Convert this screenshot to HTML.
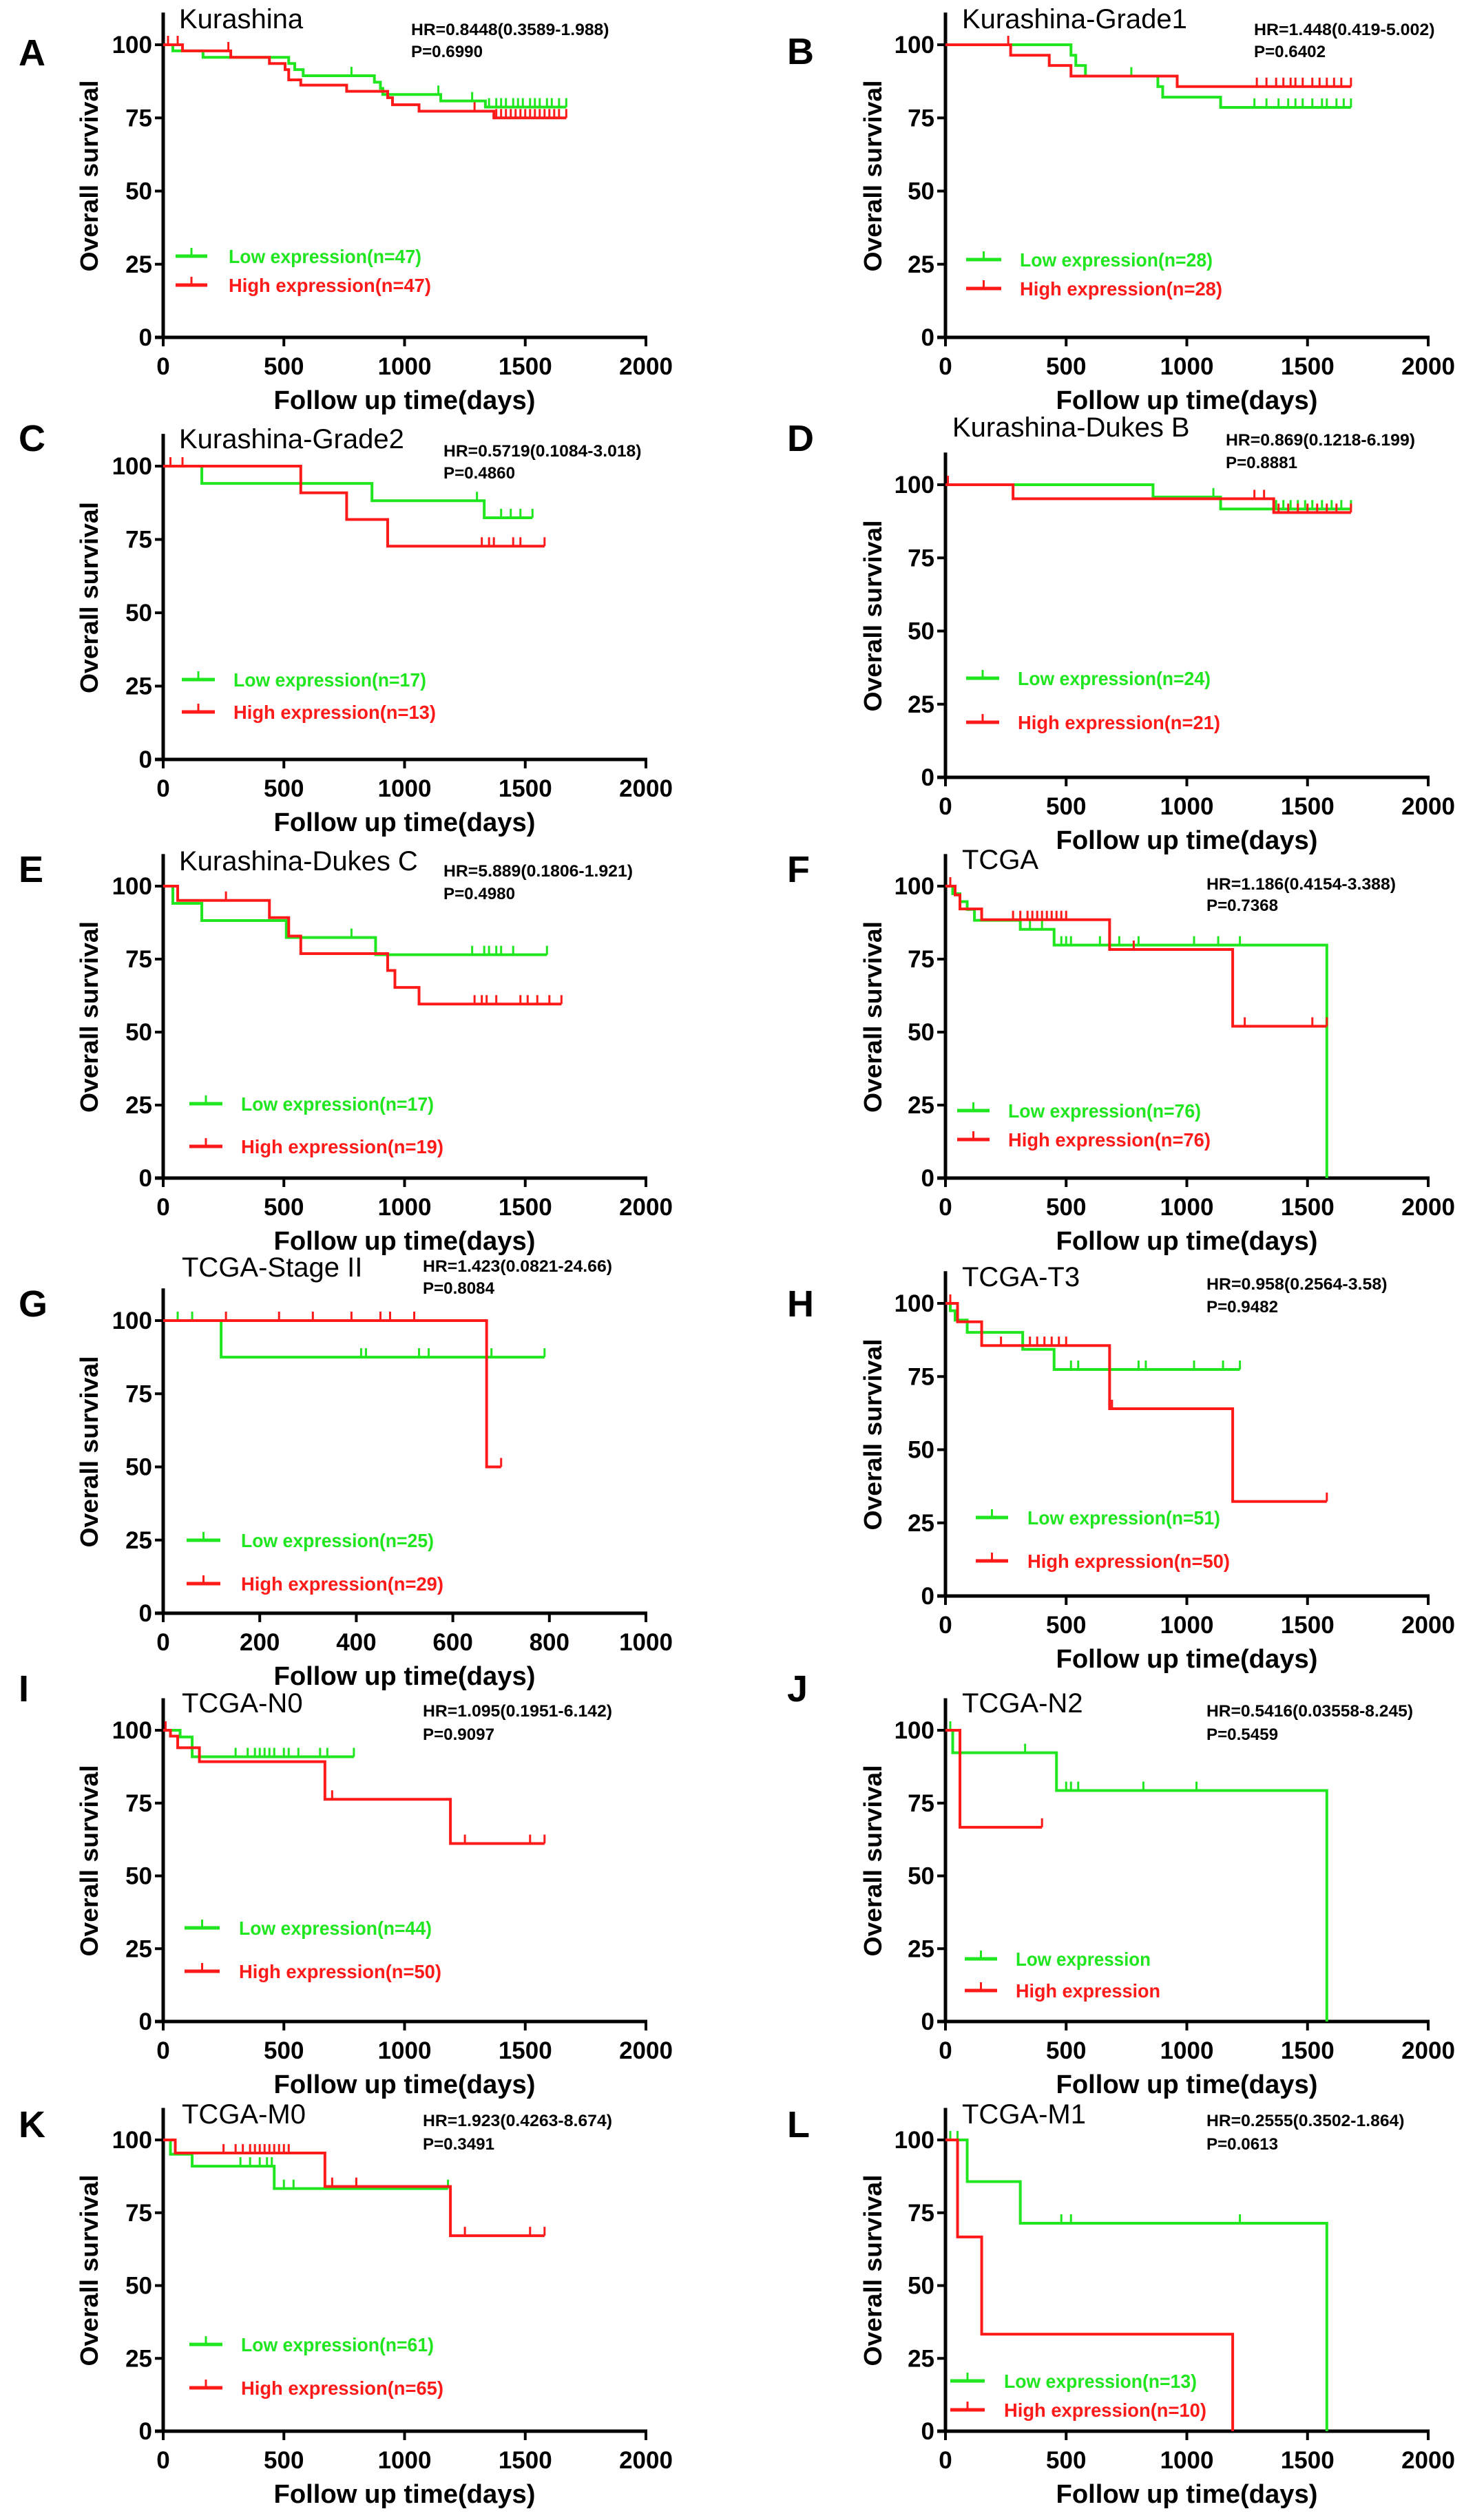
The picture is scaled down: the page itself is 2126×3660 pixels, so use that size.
<!DOCTYPE html>
<html><head><meta charset="utf-8"><style>
html,body{margin:0;padding:0;background:#fff}
svg{display:block}
text{font-family:"Liberation Sans",Arial,sans-serif}
</style></head><body>
<svg id="fig" xmlns="http://www.w3.org/2000/svg" width="2126" height="3660" viewBox="0 0 2126 3660">
<rect x="0" y="0" width="2126" height="3660" fill="#fff"/>
</svg>
<script>
// ---- data (days, survival %) ----
const A_lowT=[40,165,520,545,580,875,900,910,1150,1335];
const A_lowS=[97.9,95.7,93.6,91.5,89.4,87.2,85.1,83.0,80.8,78.7];
const A_lowC=[780,1140,1280,1350,1380,1400,1420,1450,1470,1490,1520,1540,1560,1590,1610,1640,1670];
const A_highT=[80,280,440,505,520,570,760,930,950,1060,1370];
const A_highS=[97.9,95.7,93.6,91.5,88.0,86.2,84.1,81.9,79.5,77.3,75.0];
const A_highC=[20,60,270,1290,1380,1400,1420,1440,1460,1480,1500,1520,1540,1560,1580,1600,1620,1640,1670];
const A_ends=[1670,1670];

const B_lowT=[520,540,580,880,900,1140];
const B_lowS=[96.4,92.9,89.3,85.7,82.1,78.6];
const B_lowC=[770,1280,1330,1380,1420,1450,1480,1520,1560,1580,1620,1650,1680];
const B_highT=[270,430,520,960];
const B_highS=[96.4,92.9,89.3,85.7];
const B_highC=[260,1290,1330,1370,1400,1430,1450,1480,1520,1550,1580,1610,1640,1680];
const B_ends=[1680,1680];

const C_lowT=[160,865,1330];
const C_lowS=[94.1,88.2,82.4];
const C_lowC=[1300,1400,1440,1480,1530];
const C_highT=[570,760,930];
const C_highS=[90.9,81.8,72.7];
const C_highC=[30,80,1320,1350,1370,1450,1480,1580];
const C_ends=[1530,1580];

const D_lowT=[860,1140];
const D_lowS=[95.8,91.7];
const D_lowC=[1110,1370,1400,1430,1460,1490,1520,1560,1600,1640,1680];
const D_highT=[280,1360];
const D_highS=[95.2,90.5];
const D_highC=[10,1280,1320,1380,1420,1460,1500,1540,1580,1620,1680];
const D_ends=[1680,1680];

const E_lowT=[40,160,510,880];
const E_lowS=[94.1,88.2,82.4,76.5];
const E_lowC=[780,1280,1330,1350,1380,1400,1450,1590];
const E_highT=[60,440,520,570,930,960,1060];
const E_highS=[95.1,89.2,82.9,76.9,71.1,65.3,59.6];
const E_highC=[260,1290,1320,1340,1380,1480,1510,1550,1600,1650];
const E_ends=[1590,1650];

const F_lowT=[30,60,90,120,310,450,1580];
const F_lowS=[97.4,94.7,92.0,88.3,85.2,79.8,0];
const F_lowC=[350,400,480,500,520,640,720,800,1030,1130,1220];
const F_highT=[40,60,150,680,1190];
const F_highS=[97.0,92.2,88.5,78.3,52.0];
const F_highC=[20,280,310,340,360,380,400,420,440,460,480,500,780,1240,1520,1580];
const F_ends=[1580,1580];

const G_lowT=[120];
const G_lowS=[87.5];
const G_lowC=[30,60,410,420,530,550,680,790];
const G_highT=[670];
const G_highS=[50];
const G_highC=[130,240,310,390,450,470,520,700];
const G_ends=[790,700];

const H_lowT=[20,40,90,320,450];
const H_lowS=[97.5,94.3,90.1,84.3,77.4];
const H_lowC=[20,520,550,800,830,1030,1150,1220];
const H_highT=[50,150,680,1190];
const H_highS=[93.7,85.6,64.0,32.3];
const H_highC=[20,230,350,380,410,440,470,500,690,1580];
const H_ends=[1220,1580];

const I_lowT=[70,120];
const I_lowS=[97.7,90.9];
const I_lowC=[300,350,380,400,420,440,460,500,520,560,650,680,790];
const I_highT=[30,60,150,670,1190];
const I_highS=[98,94,89.2,76.3,61.1];
const I_highC=[10,700,1250,1520,1580];
const I_ends=[790,1580];

const J_lowT=[30,460,1580];
const J_lowS=[92.3,79.3,0];
const J_lowC=[20,330,500,520,550,820,1040];
const J_highT=[60];
const J_highS=[66.7];
const J_highC=[400];
const J_ends=[1580,400];

const K_lowT=[30,120,460];
const K_lowS=[95.1,91.0,83.3];
const K_lowC=[30,320,360,400,430,450,500,540,800,1180];
const K_highT=[50,670,1190];
const K_highS=[95.5,84.0,67.1];
const K_highC=[250,300,330,360,380,400,420,440,460,480,500,520,700,800,1250,1520,1580];
const K_ends=[1180,1580];

const L_lowT=[90,310,1580];
const L_lowS=[85.7,71.4,0];
const L_lowC=[20,50,480,520,1220];
const L_highT=[50,150,1190];
const L_highS=[66.7,33.3,0];
const L_highC=[];
const L_ends=[1580,1190];

const yTicks=[0,25,50,75,100];
const xTicks2000=[0,500,1000,1500,2000];
const xTicks1000=[0,200,400,600,800,1000];

const NS="http://www.w3.org/2000/svg";
const svg=document.getElementById('fig');
const GREEN="#1fe61f", RED="#ff1a1a";
function mk(tag,attrs,parent){const e=document.createElementNS(NS,tag);for(const k in attrs)e.setAttribute(k,attrs[k]);(parent||svg).appendChild(e);return e;}

const panels=[
 {id:'A',L:'left',y100:65,y0:490,title:'Kurashina',ty:41,hr:'HR=0.8448(0.3589-1.988)',p:'P=0.6990',hry:51,py:83,lg:[372,414],lx:[255,301,332],low:'Low expression(n=47)',high:'High expression(n=47)',ly:95,xmax:2000,d:[A_lowT,A_lowS,A_lowC,A_highT,A_highS,A_highC,A_ends]},
 {id:'B',L:'right',y100:65,y0:490,title:'Kurashina-Grade1',ty:41,hr:'HR=1.448(0.419-5.002)',p:'P=0.6402',hry:51,py:83,lg:[377,419],lx:[1403,1454,1481],low:'Low expression(n=28)',high:'High expression(n=28)',ly:93,xmax:2000,d:[B_lowT,B_lowS,B_lowC,B_highT,B_highS,B_highC,B_ends]},
 {id:'C',L:'left',y100:677,y0:1103,title:'Kurashina-Grade2',ty:651,hr:'HR=0.5719(0.1084-3.018)',p:'P=0.4860',hry:663,py:695,hrx:644,lg:[987,1034],lx:[264,312,339],low:'Low expression(n=17)',high:'High expression(n=13)',ly:655,xmax:2000,d:[C_lowT,C_lowS,C_lowC,C_highT,C_highS,C_highC,C_ends]},
 {id:'D',L:'right',y100:704,y0:1129,title:'Kurashina-Dukes B',ty:634,tx:1383,hr:'HR=0.869(0.1218-6.199)',p:'P=0.8881',hry:647,py:680,hrx:1780,lg:[985,1049],lx:[1403,1451,1478],low:'Low expression(n=24)',high:'High expression(n=21)',ly:655,xmax:2000,d:[D_lowT,D_lowS,D_lowC,D_highT,D_highS,D_highC,D_ends]},
 {id:'E',L:'left',y100:1287,y0:1711,title:'Kurashina-Dukes C',ty:1264,hr:'HR=5.889(0.1806-1.921)',p:'P=0.4980',hry:1273,py:1306,hrx:644,lg:[1603,1665],lx:[275,323,350],low:'Low expression(n=17)',high:'High expression(n=19)',ly:1281,xmax:2000,d:[E_lowT,E_lowS,E_lowC,E_highT,E_highS,E_highC,E_ends]},
 {id:'F',L:'right',y100:1287,y0:1711,title:'TCGA',ty:1262,hr:'HR=1.186(0.4154-3.388)',p:'P=0.7368',hry:1292,py:1323,hrx:1752,lg:[1613,1655],lx:[1390,1437,1464],low:'Low expression(n=76)',high:'High expression(n=76)',ly:1281,xmax:2000,d:[F_lowT,F_lowS,F_lowC,F_highT,F_highS,F_highC,F_ends]},
 {id:'G',L:'left',y100:1918,y0:2343,title:'TCGA-Stage II',ty:1854,tx:264,hr:'HR=1.423(0.0821-24.66)',p:'P=0.8084',hry:1847,py:1879,hrx:614,lg:[2237,2300],lx:[271,320,350],low:'Low expression(n=25)',high:'High expression(n=29)',ly:1912,xmax:1000,d:[G_lowT,G_lowS,G_lowC,G_highT,G_highS,G_highC,G_ends]},
 {id:'H',L:'right',y100:1893,y0:2318,title:'TCGA-T3',ty:1868,hr:'HR=0.958(0.2564-3.58)',p:'P=0.9482',hry:1873,py:1906,hrx:1752,lg:[2204,2267],lx:[1417,1464,1492],low:'Low expression(n=51)',high:'High expression(n=50)',ly:1912,xmax:2000,d:[H_lowT,H_lowS,H_lowC,H_highT,H_highS,H_highC,H_ends]},
 {id:'I',L:'left',y100:2513,y0:2936,title:'TCGA-N0',ty:2487,tx:264,hr:'HR=1.095(0.1951-6.142)',p:'P=0.9097',hry:2493,py:2527,hrx:614,lg:[2800,2863],lx:[268,319,347],low:'Low expression(n=44)',high:'High expression(n=50)',ly:2471,xmax:2000,d:[I_lowT,I_lowS,I_lowC,I_highT,I_highS,I_highC,I_ends]},
 {id:'J',L:'right',y100:2513,y0:2936,title:'TCGA-N2',ty:2487,hr:'HR=0.5416(0.03558-8.245)',p:'P=0.5459',hry:2493,py:2527,hrx:1752,lg:[2845,2891],lx:[1401,1448,1475],low:'Low expression',high:'High expression',ly:2471,xmax:2000,d:[J_lowT,J_lowS,J_lowC,J_highT,J_highS,J_highC,J_ends]},
 {id:'K',L:'left',y100:3108,y0:3531,title:'TCGA-M0',ty:3084,tx:264,hr:'HR=1.923(0.4263-8.674)',p:'P=0.3491',hry:3088,py:3122,hrx:614,lg:[3405,3468],lx:[275,323,350],low:'Low expression(n=61)',high:'High expression(n=65)',ly:3104,xmax:2000,d:[K_lowT,K_lowS,K_lowC,K_highT,K_highS,K_highC,K_ends]},
 {id:'L',L:'right',y100:3108,y0:3531,title:'TCGA-M1',ty:3084,hr:'HR=0.2555(0.3502-1.864)',p:'P=0.0613',hry:3088,py:3122,hrx:1752,lg:[3458,3500],lx:[1380,1430,1458],low:'Low expression(n=13)',high:'High expression(n=10)',ly:3104,xmax:2000,d:[L_lowT,L_lowS,L_lowC,L_highT,L_highS,L_highC,L_ends]}
];

function survAt(t,T,S){let v=100;for(let i=0;i<T.length;i++){if(T[i]<=t)v=S[i];}return v;}

panels.forEach(P=>{
  const left=P.L==='left';
  const x0=left?237:1373, x1=left?938:2074;
  const X=t=>x0+(x1-x0)*t/P.xmax;
  const Y=v=>P.y0-(P.y0-P.y100)*v/100;
  const g=mk('g',{});
  
  

  const letter=mk('text',{x:left?27:1143,y:P.ly,'font-size':54,'font-weight':'bold',fill:'#000'},g);
  letter.textContent=P.id;
  
  

  const ttl=mk('text',{x:P.tx||(left?260:1397),y:P.ty,'font-size':40,fill:'#000'},g);
  ttl.textContent=P.title;
  
  

  const hx=P.hrx||(left?597:1821);
  const hr=mk('text',{x:hx,y:P.hry,'font-size':24,'font-weight':'bold',fill:'#000',textLength:P.hr.length*12.5,lengthAdjust:'spacingAndGlyphs'},g);
  hr.textContent=P.hr;
  
  
  const pv=mk('text',{x:hx,y:P.py,'font-size':24,'font-weight':'bold',fill:'#000',textLength:P.p.length*13,lengthAdjust:'spacingAndGlyphs'},g);
  pv.textContent=P.p;
  
  

  // axes
  const ya=mk('line',{x1:x0,y1:P.y0+2,x2:x0,y2:Y(111),stroke:'#000','stroke-width':5},g);
  
  
  const xa=mk('line',{x1:x0-12,y1:P.y0,x2:x1+2,y2:P.y0,stroke:'#000','stroke-width':5},g);
  
  
  yTicks.forEach(v=>{
    const tk=mk('line',{x1:x0-12,y1:Y(v),x2:x0,y2:Y(v),stroke:'#000','stroke-width':4},g);
    
    
    const tl=mk('text',{x:x0-16,y:Y(v)+12,'font-size':35,'font-weight':'bold','text-anchor':'end',fill:'#000'},g);
    tl.textContent=v;
    
    
  });
  const xt=P.xmax===1000?xTicks1000:xTicks2000;
  xt.forEach(t=>{
    const tk=mk('line',{x1:X(t),y1:P.y0,x2:X(t),y2:P.y0+13,stroke:'#000','stroke-width':4},g);
    
    
    const tl=mk('text',{x:X(t),y:P.y0+54,'font-size':35,'font-weight':'bold','text-anchor':'middle',fill:'#000'},g);
    tl.textContent=t;
    
    
  });
  const xtitle=mk('text',{x:(x0+x1)/2,y:P.y0+104,'font-size':38,'font-weight':'bold','text-anchor':'middle',fill:'#000',textLength:380,lengthAdjust:'spacingAndGlyphs'},g);
  xtitle.textContent='Follow up time(days)';
  
  
  const ycx=left?142:1280, ycy=(P.y0+P.y100)/2-22;
  const ytitle=mk('text',{x:ycx,y:ycy,'font-size':36,'font-weight':'bold','text-anchor':'middle',fill:'#000',textLength:278,lengthAdjust:'spacingAndGlyphs',transform:`rotate(-90 ${ycx} ${ycy})`},g);
  ytitle.textContent='Overall survival';
  
  

  // curves
  const [lT,lS,lC,hT,hS,hC,ends]=P.d;
  [[lT,lS,lC,ends[0],GREEN,'low'],[hT,hS,hC,ends[1],RED,'high']].forEach(([T,S,C,end,col,nm])=>{
    let d=`M${X(0)},${Y(100)}`;
    for(let i=0;i<T.length;i++){d+=` H${X(T[i])} V${Y(S[i])}`;}
    d+=` H${X(end)}`;
    const path=mk('path',{d:d,fill:'none',stroke:col,'stroke-width':4},g);
    
    
    C.forEach(t=>{
      const v=survAt(t,T,S);
      if(v<=0)return;
      const c=mk('line',{x1:X(t),y1:Y(v),x2:X(t),y2:Y(v)-13,stroke:col,'stroke-width':3},g);
      
      
    });
  });

  // legend
  [[P.lg[0],GREEN,P.low,'legend-low'],[P.lg[1],RED,P.high,'legend-high']].forEach(([ly,col,txt,nm])=>{
    const lg=mk('g',{},g);
    
    
    mk('line',{x1:P.lx[0],y1:ly,x2:P.lx[1],y2:ly,stroke:col,'stroke-width':5},lg);
    mk('line',{x1:(P.lx[0]+P.lx[1])/2,y1:ly,x2:(P.lx[0]+P.lx[1])/2,y2:ly-12,stroke:col,'stroke-width':3},lg);
    const t=mk('text',{x:P.lx[2],y:ly+10,'font-size':28,'font-weight':'bold',fill:col,textLength:txt.length*14,lengthAdjust:'spacingAndGlyphs'},lg);
    t.textContent=txt;
  });
});
</script>
</body></html>
